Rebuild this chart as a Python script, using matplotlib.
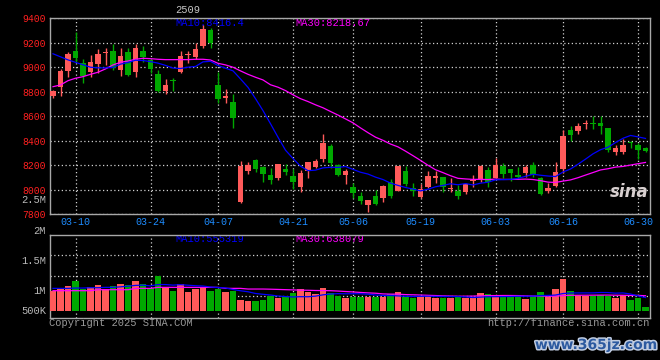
import numpy as np
import pandas as pd
import matplotlib
matplotlib.use('Agg')
import matplotlib.pyplot as plt
import matplotlib.patheffects as pe

plt.rcParams['font.family'] = ['Liberation Mono', 'DejaVu Sans Mono']

# trading days of contract 2509 (futures holidays removed)
days = pd.bdate_range('2025-03-05', '2025-07-01')
holidays = pd.to_datetime(['2025-04-04', '2025-05-01', '2025-05-02', '2025-05-05', '2025-06-02'])
days = days[~days.isin(holidays)]
day_labels = list(days.strftime('%m-%d'))
tick_labels = ['03-10', '03-24', '04-07', '04-21', '05-06', '05-19', '06-03', '06-16', '06-30']

opens = [8765, 8841, 8972, 9133, 9038, 8959, 9029, 9119, 9133, 8978,
         9125, 8961, 9133, 9057, 8945, 8806, 8893, 8961, 9100, 9084,
         9174, 9305, 8855, 8746, 8713, 7899, 8152, 8242, 8188, 8119,
         8095, 8168, 8111, 8024, 8155, 8187, 8250, 8356, 8201, 8119,
         8024, 7948, 7874, 7948, 7929, 8065, 7991, 8152, 8010, 7942,
         8024, 8097, 8100, 8005, 7988, 7983, 8070, 8087, 8160, 8097,
         8193, 8168, 8119, 8133, 8201, 8092, 7991, 8032, 8168, 8487,
         8479, 8533, 8547, 8547, 8501, 8304, 8304, 8392, 8365, 8343]
closes = [8806, 8969, 9106, 9078, 8929, 9040, 9108, 9127, 8997, 9092,
          8937, 9157, 9084, 8986, 8806, 8855, 8888, 9092, 9106, 9152,
          9313, 9201, 8741, 8768, 8588, 8193, 8201, 8168, 8127, 8081,
          8209, 8141, 8065, 8133, 8226, 8237, 8384, 8215, 8119, 8152,
          7975, 7909, 7915, 7882, 8029, 7948, 8193, 8046, 7988, 8005,
          8111, 8111, 8024, 8016, 7948, 8046, 8078, 8193, 8065, 8201,
          8127, 8133, 8106, 8182, 8119, 7964, 8016, 8147, 8438, 8446,
          8520, 8547, 8539, 8520, 8324, 8343, 8365, 8378, 8324, 8318]
highs = [8815, 8986, 9122, 9291, 9068, 9100, 9149, 9155, 9190, 9160,
         9155, 9190, 9174, 9068, 8978, 8904, 8915, 9133, 9133, 9196,
         9346, 9324, 8959, 8822, 8779, 8234, 8228, 8250, 8196, 8179,
         8209, 8209, 8168, 8160, 8226, 8250, 8457, 8375, 8209, 8168,
         8057, 7983, 7915, 7997, 8037, 8087, 8193, 8196, 8051, 8043,
         8152, 8152, 8106, 8092, 8037, 8051, 8119, 8201, 8187, 8256,
         8215, 8168, 8182, 8201, 8223, 8100, 8051, 8228, 8487, 8520,
         8542, 8569, 8602, 8602, 8506, 8365, 8414, 8400, 8378, 8351]
lows = [8745, 8768, 8923, 9046, 8874, 8923, 8950, 9019, 8978, 8929,
        8929, 8923, 9046, 8956, 8801, 8781, 8806, 8956, 9032, 9068,
        9155, 9155, 8705, 8705, 8506, 7893, 8125, 8141, 8065, 8046,
        8078, 8119, 8005, 7978, 8092, 8174, 8228, 8174, 8114, 8046,
        7929, 7882, 7814, 7874, 7901, 7934, 7991, 8032, 7950, 7934,
        8010, 8057, 7983, 7983, 7923, 7964, 8024, 8065, 8024, 8092,
        8092, 8073, 8087, 8100, 8100, 7956, 7975, 8024, 8138, 8400,
        8454, 8495, 8495, 8454, 8304, 8283, 8291, 8337, 8250, 8310]
# volume, thousand lots
volume_k = [812, 910, 1022, 1246, 924, 980, 1064, 910, 1036, 1120,
            1078, 1246, 1120, 952, 1470, 980, 826, 1120, 784, 910,
            952, 826, 910, 784, 812, 448, 406, 406, 434, 602,
            532, 602, 742, 910, 784, 700, 952, 742, 602, 532,
            574, 574, 560, 574, 574, 700, 784, 574, 532, 602,
            602, 532, 532, 532, 560, 532, 532, 742, 700, 630,
            630, 588, 630, 504, 630, 784, 574, 910, 1330, 840,
            672, 602, 630, 672, 602, 532, 672, 462, 532, 154]
# moving averages before enough in-window history
ma10_head = [9110, 9085, 9060, 9040, 9020, 9000, 8995, 8995, 8998]
ma30_head = [8841, 8855, 8890, 8910, 8923, 8942, 8959, 8986, 9019, 9040,
             9051, 9065, 9073, 9070, 9065, 9062, 9062, 9062, 9062, 9065,
             9065, 9059, 9032, 9019, 9000, 8970, 8942, 8918, 8896]
vma10_head_k = [938, 938, 938, 952, 952, 966, 966, 980, 980]
vma30_head_k = [840, 840, 840, 840, 840, 840, 882, 882, 882, 882,
                882, 938, 938, 938, 980, 980, 980, 980, 980, 980,
                980, 980, 980, 938, 938, 938, 910, 910, 910]

red = '#ff5a5a'
green = '#00a800'
grid_kw = dict(color='#d0d0d0', linestyle=(0, (1, 2)), linewidth=0.9)

o = np.array(opens, float)
c = np.array(closes, float)
h = np.array(highs, float)
l = np.array(lows, float)
vol = np.array(volume_k, float) * 1000
x = np.arange(len(c))
cols = np.where(c >= o, red, green)

ma10 = pd.Series(c).rolling(10).mean().values
ma10[:9] = ma10_head
ma30 = pd.Series(c).rolling(30).mean().values
ma30[:29] = ma30_head
vma10 = pd.Series(vol).rolling(10).mean().values
vma10[:9] = np.array(vma10_head_k) * 1000
vma30 = pd.Series(vol).rolling(30).mean().values
vma30[:29] = np.array(vma30_head_k) * 1000

tick_idx = [day_labels.index(t) for t in tick_labels]

fig = plt.figure(figsize=(6.6, 3.6), dpi=100, facecolor='black')
ax = fig.add_axes([50/660, 1-214/360, 600/660, (214-18.3)/360], facecolor='black')
axv = fig.add_axes([50/660, 1-318/360, 600/660, (318-234.7)/360], facecolor='black')

# price panel
ax.vlines(x, l, h, colors=cols, linewidth=1, zorder=3)
ax.bar(x, np.maximum(np.abs(c-o), 6), bottom=np.minimum(o, c), width=0.76,
       color=cols, linewidth=0, zorder=4)
ax.plot(x, ma30, color='#ff00ff', linewidth=0.9, zorder=5)
ax.plot(x, ma10, color='#0000ff', linewidth=0.9, zorder=5)
ax.set_xlim(-0.4, 79.6)
ax.set_ylim(7800, 9400)
ax.set_yticks(np.arange(7800, 9401, 200))
ax.set_xticks(tick_idx)
ax.set_xticklabels(tick_labels)
ax.grid(True, zorder=0, **grid_kw)
ax.set_axisbelow(True)
ax.tick_params(axis='y', length=0, pad=3, labelsize=7, labelcolor='#ff2020')
ax.tick_params(axis='x', length=0, pad=2.5, labelsize=7.2, labelcolor='#1e8cff')
ax.text(125/600, 1-(23.5-18.3)/195.7, 'MA10:8416.4', transform=ax.transAxes,
        color='#0000ff', fontsize=7.5, va='center', zorder=1)
ax.text(245/600, 1-(23.5-18.3)/195.7, 'MA30:8218.67', transform=ax.transAxes,
        color='#ff00ff', fontsize=7.5, va='center', zorder=1)
ax.text(0.965, 0.11, 'sina', transform=ax.transAxes, color='#d8d0d0', fontsize=12,
        fontweight='bold', fontstyle='italic', ha='center', va='center', zorder=6,
        family='DejaVu Sans')

# volume panel
axv.bar(x, vol, width=0.82, color=cols, linewidth=0, zorder=3)
axv.plot(x, vma30, color='#ff00ff', linewidth=0.9, zorder=4)
axv.plot(x, vma10, color='#0000ff', linewidth=0.9, zorder=4)
axv.set_xlim(-0.4, 79.6)
axv.set_ylim(-306600, 3192000)
axv.set_xticks(tick_idx)
axv.set_xticklabels([])
axv.set_yticks([])
axv.grid(True, axis='x', zorder=0, **grid_kw)
lo, hi = axv.get_ylim()
for f in [0.753, 0.508, 0.268]:
    axv.axhline(lo + f*(hi-lo), zorder=0, **grid_kw)
axv.tick_params(length=0)
for lab, yp in [('2.5M', 200), ('2M', 231), ('1.5M', 261), ('1M', 291), ('500K', 311)]:
    axv.text(-4/600, (318-yp)/83.3, lab, transform=axv.transAxes, color='#b8b8b8',
             fontsize=7.5, ha='right', va='center', clip_on=False)
axv.text(125/600, 1-(238.5-234.7)/83.3, 'MA10:555319', transform=axv.transAxes,
         color='#0000ff', fontsize=7.5, va='center', zorder=1)
axv.text(245/600, 1-(238.5-234.7)/83.3, 'MA30:638079', transform=axv.transAxes,
         color='#ff00ff', fontsize=7.5, va='center', zorder=1)

for a in (ax, axv):
    for s in a.spines.values():
        s.set_color('#a8a8a8')
        s.set_linewidth(1)

fig.text(188/660, 1-10/360, '2509', color='#c8c8c8', fontsize=7.5, ha='center', va='center')
fig.text(49/660, 1-323.5/360, 'Copyright 2025 SINA.COM', color='#9a9a9a',
         fontsize=7.5, va='center')
fig.text(650/660, 1-323.5/360, 'http://finance.sina.com.cn', color='#9a9a9a',
         fontsize=7.5, ha='right', va='center')
fig.text(596/660, 1-345/360, 'www.365jz.com', color='#2c5aa0', fontsize=10,
         fontweight='bold', ha='center', va='center', family='DejaVu Sans',
         path_effects=[pe.withStroke(linewidth=2.2, foreground='#c0cce0')])

fig.savefig('out.png', dpi=100, facecolor='black')
